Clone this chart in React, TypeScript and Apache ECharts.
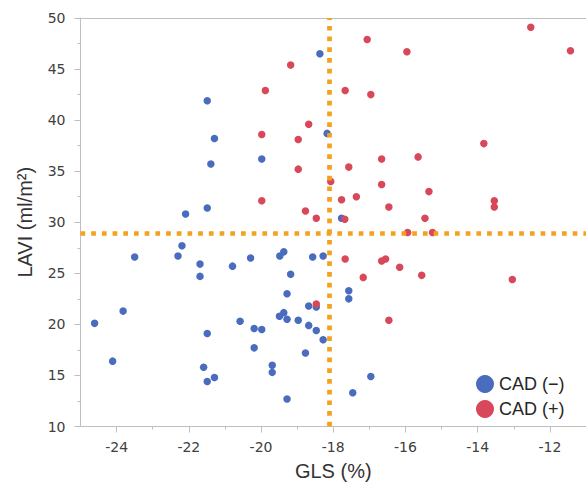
import React, { useEffect, useRef } from "react";
import * as echarts from "echarts";

const blueGLS = [
  -18.37, -21.49, -18.17, -21.29, -19.98, -21.39, -21.49, -22.09, -17.77, -18.28,
  -17.57, -17.57, -18.28, -16.96, -17.46, -22.19, -22.3, -23.5, -21.69, -21.69,
  -20.79, -20.29, -19.48, -19.37, -18.57, -19.18, -19.28, -18.47, -18.68, -19.49,
  -19.37, -19.28, -18.97, -18.68, -18.47, -18.77, -20.58, -20.19, -19.98, -20.19,
  -21.49, -23.82, -24.61, -24.11, -21.59, -21.49, -21.29, -19.69, -19.69, -19.28,
];
const blueLAVI = [
  46.5, 41.9, 38.7, 38.2, 36.2, 35.7, 31.4, 30.8, 30.4, 26.7,
  23.3, 22.5, 18.5, 14.9, 13.3, 27.7, 26.7, 26.6, 25.9, 24.7,
  25.7, 26.5, 26.7, 27.1, 26.6, 24.9, 23.0, 21.7, 21.8, 20.8,
  21.15, 20.5, 20.4, 19.9, 19.4, 17.2, 20.3, 19.6, 19.5, 17.7,
  19.1, 21.3, 20.1, 16.4, 15.8, 14.4, 14.8, 16.0, 15.3, 12.7,
];
const redGLS = [
  -19.18, -19.88, -18.68, -19.98, -18.97, -18.97, -18.07, -19.98, -18.77, -18.47,
  -12.53, -17.06, -15.96, -11.43, -17.67, -16.96, -13.83, -16.66, -15.65, -17.57,
  -16.66, -15.35, -17.77, -17.36, -16.46, -13.54, -13.54, -17.68, -15.46, -15.94,
  -15.25, -17.67, -16.66, -16.55, -16.16, -17.17, -15.55, -13.04, -16.46, -18.47,
];
const redLAVI = [
  45.4, 42.9, 39.6, 38.6, 38.1, 35.2, 34.0, 32.1, 31.1, 30.4,
  49.1, 47.9, 46.7, 46.8, 42.9, 42.5, 37.7, 36.2, 36.4, 35.4,
  33.7, 33.0, 32.2, 32.5, 31.5, 32.1, 31.5, 30.3, 30.4, 29.0,
  29.0, 26.4, 26.2, 26.4, 25.6, 24.6, 24.8, 24.4, 20.4, 22.0,
];
const seriesNames = ["CAD (\u2212)", "CAD (+)"];
const xMajorTicks = [-24, -22, -20, -18, -16, -14, -12];
const xMinorTicks = [-23, -21, -19, -17, -15, -13];
const glsCutoff = -18.1;
const laviCutoff = 28.9;

export default function App() {
  const ref = useRef<HTMLDivElement>(null);
  useEffect(() => {
    if (!ref.current) return;
    const chart = echarts.init(ref.current, null, { renderer: "svg" });
    const axisColor = "#bfbfbf";
    const labelColor = "#404040";
    const titleFont = "Liberation Sans";
    const tickFont = "DejaVu Sans";
    const orange = "#f4a11f";
    chart.setOption({
      animation: false,
      grid: {
        left: 80.5,
        right: 0,
        top: 18,
        bottom: 62.5,
        show: false,
      },
      legend: {
        orient: "vertical",
        left: 471,
        top: 370,
        icon: "circle",
        itemWidth: 18,
        itemHeight: 18,
        itemGap: 7,
        textStyle: { fontFamily: titleFont, fontSize: 18, color: "#262626" },
        data: seriesNames,
      },
      xAxis: [
        {
          type: "value",
          min: -25,
          max: -11,
          position: "bottom",
          splitLine: { show: false },
          axisLine: { lineStyle: { color: axisColor } },
          axisTick: { customValues: xMajorTicks, length: 6, lineStyle: { color: axisColor } },
          axisLabel: {
            customValues: xMajorTicks,
            fontFamily: tickFont,
            fontSize: 14,
            color: labelColor,
            margin: 13,
          },
          name: "GLS (%)",
          nameLocation: "middle",
          nameGap: 34,
          nameTextStyle: { fontFamily: titleFont, fontSize: 20, color: "#333" },
        },
        {
          type: "value",
          min: -25,
          max: -11,
          position: "bottom",
          splitLine: { show: false },
          axisLine: { show: false },
          axisTick: { customValues: xMinorTicks, length: 3, lineStyle: { color: axisColor } },
          axisLabel: { show: false },
        },
        {
          type: "value",
          min: -25,
          max: -11,
          position: "top",
          splitLine: { show: false },
          axisLine: { show: true, lineStyle: { color: axisColor } },
          axisTick: { show: false },
          axisLabel: { show: false },
        },
      ],
      yAxis: {
        type: "value",
        min: 10,
        max: 50,
        interval: 5,
        splitLine: { show: false },
        axisLine: { show: true, lineStyle: { color: axisColor } },
        axisTick: { show: true, length: 6, lineStyle: { color: axisColor } },
        minorTick: { show: true, splitNumber: 2, length: 3, lineStyle: { color: axisColor } },
        axisLabel: { fontFamily: tickFont, fontSize: 14, color: labelColor, margin: 15 },
        name: "LAVI (ml/m\u00b2)",
        nameLocation: "middle",
        nameGap: 46,
        nameTextStyle: { fontFamily: titleFont, fontSize: 20, color: "#333" },
      },
      series: [
        {
          name: seriesNames[0],
          type: "scatter",
          symbolSize: 7.5,
          itemStyle: { color: "#4a6cbe", opacity: 1 },
          data: blueGLS.map((x, i) => [x, blueLAVI[i]]),
        },
        {
          name: seriesNames[1],
          type: "scatter",
          symbolSize: 7.5,
          itemStyle: { color: "#d9475a", opacity: 1 },
          data: redGLS.map((x, i) => [x, redLAVI[i]]),
          markLine: {
            silent: true,
            symbol: "none",
            label: { show: false },
            z: 10,
            lineStyle: { color: orange, width: 4.7, type: [4.7, 6], cap: "butt", opacity: 1 },
            data: [{ xAxis: glsCutoff }, { yAxis: laviCutoff }],
          },
        },
      ],
    });
    return () => chart.dispose();
  }, []);
  return <div ref={ref} style={{ width: 586, height: 489, position: "absolute", left: 0, top: 0 }} />;
}
